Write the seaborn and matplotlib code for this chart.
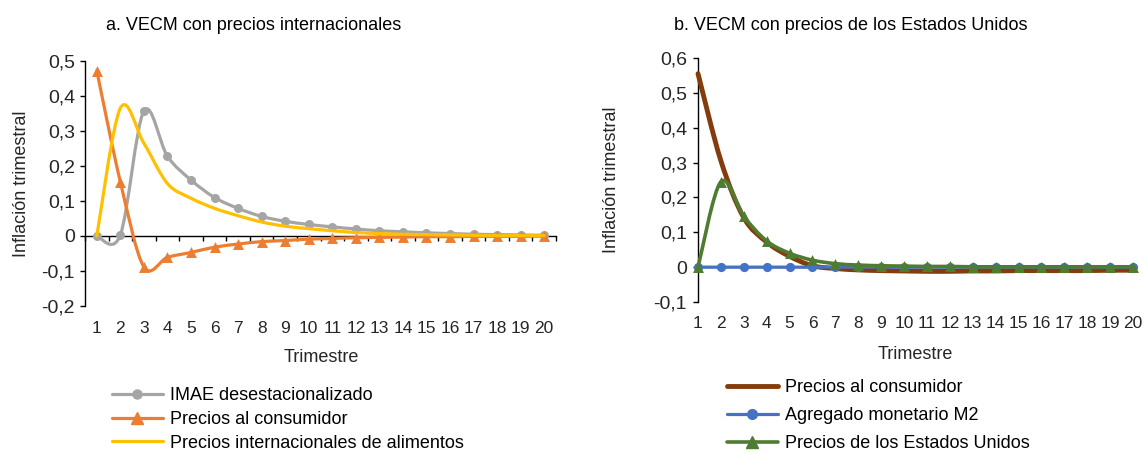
"""Impulse responses from two VECM specifications (two panels)."""

import matplotlib
matplotlib.use("Agg")
import matplotlib.pyplot as plt
import seaborn as sns
from matplotlib.path import Path
from matplotlib.patches import PathPatch
from matplotlib.lines import Line2D

# ---- data ------------------------------------------------------------------
periods = list(range(1, 21))
period_labels = [str(p) for p in periods]

# panel a: VECM con precios internacionales
imae = [0.0, 0.003, 0.357, 0.228, 0.160, 0.110, 0.079, 0.056, 0.042, 0.033,
        0.026, 0.020, 0.015, 0.012, 0.009, 0.007, 0.005, 0.004, 0.003, 0.002]
ipc_a = [0.472, 0.155, -0.088, -0.061, -0.047, -0.032, -0.023, -0.016, -0.013, -0.009,
         -0.007, -0.005, -0.004, -0.003, -0.002, -0.002, -0.001, -0.001, -0.001, 0.0]
alimentos = [0.0, 0.365, 0.265, 0.150, 0.108, 0.079, 0.058, 0.040, 0.028, 0.021,
             0.015, 0.010, 0.007, 0.005, 0.004, 0.003, 0.002, 0.001, 0.001, 0.001]
yticks_a = [-0.2, -0.1, 0.0, 0.1, 0.2, 0.3, 0.4, 0.5]
ylabels_a = ["-0,2", "-0,1", "0", "0,1", "0,2", "0,3", "0,4", "0,5"]

# panel b: VECM con precios de los Estados Unidos
ipc_b = [0.555, 0.305, 0.142, 0.072, 0.031, 0.004, -0.004, -0.008, -0.010, -0.011,
         -0.012, -0.012, -0.011, -0.011, -0.010, -0.010, -0.010, -0.010, -0.009, -0.009]
m2 = [0.0] * 20
eeuu = [0.0, 0.245, 0.146, 0.075, 0.040, 0.020, 0.010, 0.006, 0.004, 0.003,
        0.002, 0.002, 0.001, 0.001, 0.001, 0.001, 0.001, 0.001, 0.001, 0.001]
yticks_b = [-0.1, 0.0, 0.1, 0.2, 0.3, 0.4, 0.5, 0.6]
ylabels_b = ["-0,1", "0", "0,1", "0,2", "0,3", "0,4", "0,5", "0,6"]

GRAY, ORANGE, YELLOW = "#A5A5A5", "#ED7D31", "#FFC000"
BROWN, BLUE, GREEN = "#843C0C", "#4472C4", "#4F7C30"

sns.set_style("white")
plt.rcParams["font.family"] = ["Liberation Sans", "DejaVu Sans"]
plt.rcParams["text.color"] = "black"


def smooth_path(x, y):
    """Excel-like smoothed line: Catmull-Rom segments as cubic Bezier."""
    n = len(x)
    verts = [(x[0], y[0])]
    codes = [Path.MOVETO]
    for i in range(n - 1):
        x0, y0 = (x[i - 1], y[i - 1]) if i > 0 else (x[i], y[i])
        x3, y3 = (x[i + 2], y[i + 2]) if i + 2 < n else (x[i + 1], y[i + 1])
        c1 = (x[i] + (x[i + 1] - x0) / 6, y[i] + (y[i + 1] - y0) / 6)
        c2 = (x[i + 1] - (x3 - x[i]) / 6, y[i + 1] - (y3 - y[i]) / 6)
        verts += [c1, c2, (x[i + 1], y[i + 1])]
        codes += [Path.CURVE4] * 3
    return Path(verts, codes)


def draw_series(ax, y, color, lw, marker=None, size=40, z=3):
    ax.add_patch(PathPatch(smooth_path(periods, y), facecolor="none", edgecolor=color,
                           lw=lw, capstyle="round", joinstyle="round", zorder=z, clip_on=False))
    if marker:
        sns.scatterplot(x=periods, y=y, marker=marker, s=size, color=color,
                        edgecolor=color, linewidth=0, ax=ax, zorder=z + 0.5, clip_on=False)


def style_axis(ax, yticks, ylabels, xlim, pad_x, pad_y, half_ticks):
    ax.set_xlim(*xlim)
    ax.set_ylim(yticks[0], yticks[-1])
    for s in ("top", "right"):
        ax.spines[s].set_visible(False)
    ax.spines["left"].set_color("black")
    ax.spines["left"].set_linewidth(1.0)
    ax.spines["bottom"].set_position(("data", 0))
    ax.spines["bottom"].set_color("black")
    ax.spines["bottom"].set_linewidth(1.0)
    ax.spines["bottom"].set_zorder(2)
    ax.set_yticks(yticks, labels=ylabels)
    ax.tick_params(axis="y", direction="out", length=3.6, width=1, color="black",
                   labelsize=14, pad=pad_y, left=True)
    ax.set_xticks([])
    if half_ticks:
        ax.set_xticks([p + 0.5 for p in range(0, 21)], minor=True)
        ax.tick_params(axis="x", which="minor", direction="out", length=3.6, width=1,
                       color="black", bottom=True, labelbottom=False)
    sec = ax.secondary_xaxis(0.0)
    sec.set_xticks(periods, labels=period_labels)
    sec.tick_params(length=0, pad=pad_x, labelsize=12.5)
    sec.spines["bottom"].set_visible(False)


fig = plt.figure(figsize=(11.44, 4.53), dpi=100)
ax_a = fig.add_axes([85 / 1144, 1 - 306 / 453, 471 / 1144, 245 / 453])
ax_b = fig.add_axes([698 / 1144, 1 - 302 / 453, 435 / 1144, 244 / 453])

# ---- panel a ----------------------------------------------------------------
draw_series(ax_a, imae, GRAY, 2.3, "o", 42, z=3)
draw_series(ax_a, ipc_a, ORANGE, 2.3, "^", 62, z=4)
draw_series(ax_a, alimentos, YELLOW, 2.3, None, z=5)
style_axis(ax_a, yticks_a, ylabels_a, (0.5, 20.5), pad_x=10.5, pad_y=3.6, half_ticks=True)
ax_a.set_xlabel("Trimestre", fontsize=13)
ax_a.xaxis.set_label_coords(0.501, -0.176)
ax_a.set_ylabel("Inflación trimestral", fontsize=13)
ax_a.yaxis.set_label_coords(-0.117, 0.5)

handles_a = [
    Line2D([], [], color=GRAY, lw=2.3, marker="o", ms=6.5, mec=GRAY),
    Line2D([], [], color=ORANGE, lw=2.3, marker="^", ms=8, mec=ORANGE),
    Line2D([], [], color=YELLOW, lw=2.3),
]
labels_a = ["IMAE desestacionalizado", "Precios al consumidor",
            "Precios internacionales de alimentos"]
fig.legend(handles_a, labels_a, loc="upper left", bbox_to_anchor=(112 / 1144, 1 - 387 / 453),
           frameon=False, fontsize=13, handlelength=2.8, handletextpad=0.4,
           labelspacing=0.38, borderpad=0, borderaxespad=0)

# ---- panel b ----------------------------------------------------------------
draw_series(ax_b, ipc_b, BROWN, 3.5, None, z=3)
draw_series(ax_b, m2, BLUE, 2.3, "o", 44, z=4)
draw_series(ax_b, eeuu, GREEN, 2.6, "^", 62, z=5)
style_axis(ax_b, yticks_b, ylabels_b, (1, 20), pad_x=10, pad_y=4.3, half_ticks=False)
ax_b.set_xlabel("Trimestre", fontsize=13)
ax_b.xaxis.set_label_coords(0.499, -0.18)
ax_b.set_ylabel("Inflación trimestral", fontsize=13)
ax_b.yaxis.set_label_coords(-0.18, 0.5)

handles_b = [
    Line2D([], [], color=BROWN, lw=3.5),
    Line2D([], [], color=BLUE, lw=2.3, marker="o", ms=7, mec=BLUE),
    Line2D([], [], color=GREEN, lw=2.6, marker="^", ms=8, mec=GREEN),
]
labels_b = ["Precios al consumidor", "Agregado monetario M2", "Precios de los Estados Unidos"]
fig.legend(handles_b, labels_b, loc="upper left", bbox_to_anchor=(727 / 1144, 1 - 379 / 453),
           frameon=False, fontsize=13, handlelength=2.8, handletextpad=0.4,
           labelspacing=0.62, borderpad=0, borderaxespad=0)

# ---- titles -----------------------------------------------------------------
fig.text(254 / 1144, 1 - 25 / 453, "a. VECM con precios internacionales",
         ha="center", va="center", fontsize=13)
fig.text(851 / 1144, 1 - 25 / 453, "b. VECM con precios de los Estados Unidos",
         ha="center", va="center", fontsize=13)

fig.savefig("out.png", dpi=100)
